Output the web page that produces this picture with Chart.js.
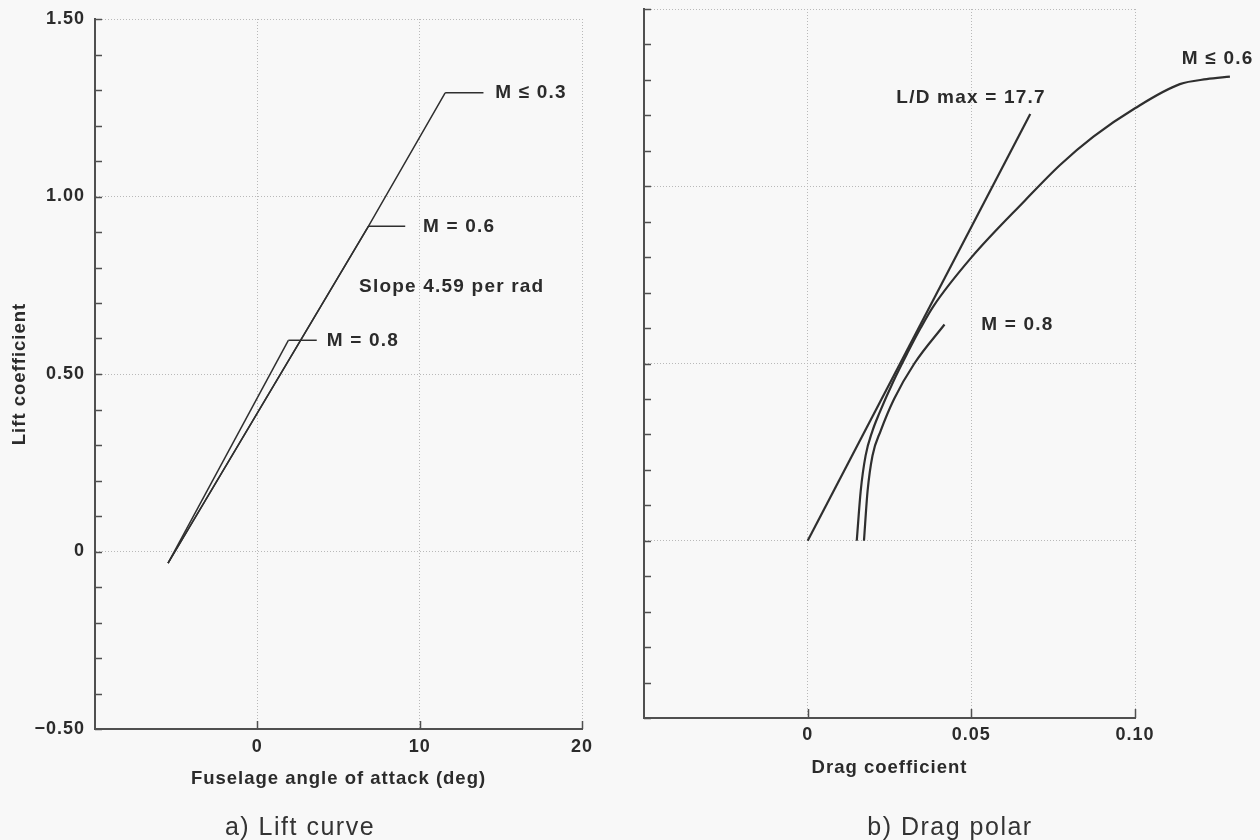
<!DOCTYPE html>
<html>
<head>
<meta charset="utf-8">
<title>Lift curve and drag polar</title>
<script src="https://cdn.jsdelivr.net/npm/chart.js@4.4.1/dist/chart.umd.min.js"></script>
<style>
  html, body { margin: 0; padding: 0; background: #f8f8f8; }
  #wrap { position: relative; width: 1260px; height: 840px; overflow: hidden; }
  canvas { position: absolute; top: 0; }
  #liftChart { left: 0; }
  #polarChart { left: 630px; }
  .caption {
    position: absolute; top: 814px; width: 240px; text-align: center;
    font: 25px "Liberation Sans", Arial, sans-serif; line-height: 25px;
    letter-spacing: 1.5px; color: #333;
  }
</style>
</head>
<body>
<div id="wrap">
  <canvas id="liftChart" width="630" height="840"></canvas>
  <canvas id="polarChart" width="630" height="840"></canvas>
  <div class="caption" style="left:180px">a) Lift curve</div>
  <div class="caption" style="left:830px">b) Drag polar</div>
</div>
<script>
// a) Lift curve: fuselage angle of attack (deg) vs lift coefficient
const alphaM03 = [-5.5, 6.84, 11.57];
const clM03 = [-0.033, 0.916, 1.292];
const alphaM06 = [-5.5, 6.84];
const clM06 = [-0.033, 0.916];
const alphaM08 = [-5.5, 1.91];
const clM08 = [-0.033, 0.595];
// label leaders run right from each line end to these angles
const leaderEndAlpha = [13.93, 9.11, 3.66];
const liftNames = ["M \u2264 0.3", "M = 0.6", "M = 0.8"];
const liftSlope = 4.59;

// b) Drag polar: drag coefficient vs lift coefficient
const cdM06 = [0.0150, 0.0162, 0.0177, 0.0198, 0.0219, 0.0262, 0.0305, 0.0345, 0.0383,
  0.0501, 0.0664, 0.0771, 0.0873, 0.1000, 0.1137, 0.1219, 0.1290];
const clPolarM06 = [0, 0.14, 0.24, 0.31, 0.36, 0.45, 0.53, 0.60, 0.66,
  0.80, 0.96, 1.06, 1.14, 1.22, 1.288, 1.302, 1.309];
const cdM08 = [0.0172, 0.0183, 0.0198, 0.0223, 0.0264, 0.0326, 0.0418];
const clPolarM08 = [0, 0.14, 0.24, 0.31, 0.40, 0.50, 0.61];
const ldMax = 17.7;
const ldCd = [0, 0.068];
const ldCl = [0, 1.204];
const polarNames = ["M \u2264 0.6", "M = 0.8"];

// tick labels
const clTickLabels = { "-5": "\u22120.50", "0": "0", "5": "0.50", "10": "1.00", "15": "1.50" };
const alphaTickLabels = { "0": "0", "10": "10", "20": "20" };
const cdTickLabels = { "0": "0", "5": "0.05", "10": "0.10" };

const FONT = '"Liberation Sans", Arial, sans-serif';
const TEXT = "#2b2b2b";
const INK = "#2f2f2f";
const AXIS = "#505050";
const GRID = "#b9b9b9";

Chart.defaults.font.family = FONT;
Chart.defaults.color = TEXT;

const pts = (xs, ys) => xs.map((x, i) => ({ x, y: ys[i] }));
const tenth = (v) => Math.round(v * 10);
const isMajorCl = (v) => tenth(v) % 5 === 0;

// line + leader datasets share this look
const line = (data, width, extra) => Object.assign({
  data, showLine: true, pointRadius: 0, borderColor: INK,
  borderWidth: width, tension: 0, clip: false,
}, extra || {});

// fixed scale box size, no extra room for label overhang
const fixBox = (size) => (s) => {
  if (s.isHorizontal()) s.height = size; else s.width = size;
  s.paddingTop = s.paddingBottom = s.paddingLeft = s.paddingRight = 0;
};

// short tick marks drawn inward from the left and bottom axes
function innerTicks(yLen, xLen) {
  return {
    id: "innerTicks",
    afterDraw(chart) {
      const { ctx, chartArea, scales: { x, y } } = chart;
      ctx.save();
      ctx.strokeStyle = AXIS;
      ctx.lineWidth = 1.5;
      ctx.beginPath();
      y.ticks.forEach((t) => {
        const py = Math.round(y.getPixelForValue(t.value)) + 0.5;
        ctx.moveTo(chartArea.left, py);
        ctx.lineTo(chartArea.left + yLen, py);
      });
      x.ticks.forEach((t) => {
        if (t.value <= x.min) return;
        const px = Math.round(x.getPixelForValue(t.value)) + 0.5;
        ctx.moveTo(px, chartArea.bottom);
        ctx.lineTo(px, chartArea.bottom - xLen);
      });
      ctx.stroke();
      ctx.restore();
    },
  };
}

// in-plot text placed at data coordinates
function notes(items) {
  return {
    id: "notes",
    afterDatasetsDraw(chart) {
      const { ctx, scales: { x, y } } = chart;
      ctx.save();
      ctx.font = "bold 19px " + FONT;
      ctx.fillStyle = TEXT;
      ctx.letterSpacing = "1.2px";
      ctx.textAlign = "left";
      ctx.textBaseline = "middle";
      items.forEach((n) => ctx.fillText(n.text, x.getPixelForValue(n.x), y.getPixelForValue(n.y)));
      ctx.restore();
    },
  };
}

const spacing = {
  id: "spacing",
  beforeDraw(chart) { chart.ctx.letterSpacing = "1px"; },
};

const tickFont = { size: 18, weight: "bold" };
const titleFont = { size: 18.5, weight: "bold" };

function clAxis(width, withLabels) {
  return {
    type: "linear", min: -0.5, max: 1.5,
    afterFit: fixBox(width),
    ticks: {
      display: withLabels,
      stepSize: 0.1, autoSkip: false, maxTicksLimit: 40, padding: 10, font: tickFont,
      callback: (v) => clTickLabels[tenth(v)] || "",
    },
    grid: {
      drawTicks: false, lineWidth: 1,
      color: (c) => (c.tick && isMajorCl(c.tick.value) && tenth(c.tick.value) > -5 ? GRID : "transparent"),
    },
    border: { color: AXIS, width: 2, dash: [1, 2] },
    title: withLabels
      ? { display: true, text: "Lift coefficient", font: titleFont, padding: { top: 9 } }
      : { display: false },
  };
}

const common = {
  responsive: false,
  animation: false,
  events: [],
  plugins: { legend: { display: false }, tooltip: { enabled: false } },
};

// a) Lift curve
const liftEnds = [
  { a: alphaM03[alphaM03.length - 1], c: clM03[clM03.length - 1] },
  { a: alphaM06[alphaM06.length - 1], c: clM06[clM06.length - 1] },
  { a: alphaM08[alphaM08.length - 1], c: clM08[clM08.length - 1] },
];

new Chart(document.getElementById("liftChart"), {
  type: "scatter",
  data: {
    datasets: [
      line(pts(alphaM03, clM03), 1.5),
      line(pts(alphaM06, clM06), 1.5),
      line(pts(alphaM08, clM08), 1.5),
      ...liftEnds.map((e, i) => line(pts([e.a, leaderEndAlpha[i]], [e.c, e.c]), 1.5)),
    ],
  },
  options: {
    ...common,
    layout: { padding: { top: 19, right: 48, bottom: 0, left: 0 } },
    scales: {
      x: {
        type: "linear", min: -10, max: 20,
        afterFit: fixBox(111),
        ticks: {
          stepSize: 10, autoSkip: false, maxRotation: 0, padding: 7, font: tickFont,
          callback: (v) => alphaTickLabels[Math.round(v)] || "",
        },
        grid: {
          drawTicks: false, lineWidth: 1,
          color: (c) => (c.tick && c.tick.value > -10 ? GRID : "transparent"),
        },
        border: { color: AXIS, width: 2, dash: [1, 2] },
        title: {
          display: true, text: "Fuselage angle of attack (deg)", font: titleFont,
          padding: { top: 0, bottom: 50 },
        },
      },
      y: clAxis(95, true),
    },
  },
  plugins: [
    spacing,
    innerTicks(7, 8),
    notes([
      { text: liftNames[0], x: 14.65, y: liftEnds[0].c },
      { text: liftNames[1], x: 10.2, y: liftEnds[1].c },
      { text: liftNames[2], x: 4.27, y: liftEnds[2].c },
      { text: "Slope " + liftSlope + " per rad", x: 6.27, y: 0.746 },
    ]),
  ],
});

// b) Drag polar; the M <= 0.6 curve runs on past the 0.10 edge
new Chart(document.getElementById("polarChart"), {
  type: "scatter",
  data: {
    datasets: [
      line(pts(ldCd, ldCl), 2.2),
      line(pts(cdM06, clPolarM06), 2.2, { cubicInterpolationMode: "monotone" }),
      line(pts(cdM08, clPolarM08), 2.2, { cubicInterpolationMode: "monotone" }),
    ],
  },
  options: {
    ...common,
    layout: { padding: { top: 9, right: 125, bottom: 0, left: 0 } },
    scales: {
      x: {
        type: "linear",
        // range set here rather than min/max so points past the edge still get drawn
        afterDataLimits: (s) => { s.min = -0.05; s.max = 0.1; },
        afterFit: fixBox(122),
        ticks: {
          stepSize: 0.05, autoSkip: false, maxRotation: 0, padding: 6, font: tickFont,
          callback: (v) => cdTickLabels[Math.round(v * 100)] || "",
        },
        grid: {
          drawTicks: false, lineWidth: 1,
          color: (c) => (c.tick && Math.round(c.tick.value * 100) > -5 ? GRID : "transparent"),
        },
        border: { color: AXIS, width: 2, dash: [1, 2] },
        title: {
          display: true, text: "Drag coefficient", font: titleFont,
          padding: { top: 0, bottom: 61 },
        },
      },
      y: clAxis(14, false),
    },
  },
  plugins: [
    spacing,
    innerTicks(7, 9),
    notes([
      { text: polarNames[0], x: 0.1143, y: 1.36 },
      { text: "L/D max = " + ldMax, x: 0.0271, y: 1.25 },
      { text: polarNames[1], x: 0.053, y: 0.608 },
    ]),
  ],
});
</script>
</body>
</html>
